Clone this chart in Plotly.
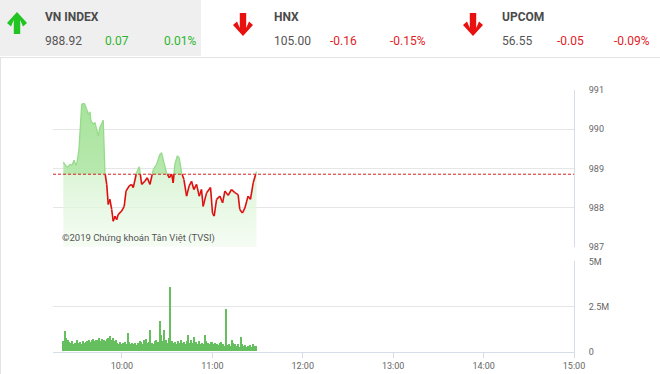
import pandas as pd
import plotly.graph_objects as go

# ---------------- data ----------------
ref_close = 988.85

price_times = [
    "09:21:06", "09:22:54", "09:24:12", "09:25:30", "09:26:54", "09:28:12", "09:29:30", "09:30:12",
    "09:31:30", "09:33:18", "09:35:00", "09:36:36", "09:37:42", "09:38:48", "09:39:24", "09:41:00",
    "09:42:06", "09:43:12", "09:44:18", "09:45:24", "09:46:30", "09:47:36", "09:48:42", "09:49:54",
    "09:50:54", "09:52:00", "09:53:12", "09:54:12", "09:55:24", "09:56:30", "09:57:30", "09:59:48",
    "10:01:30", "10:02:42", "10:04:48", "10:06:24", "10:07:30", "10:09:42", "10:11:30", "10:13:06",
    "10:15:12", "10:16:48", "10:18:36", "10:20:48", "10:23:00", "10:25:12", "10:26:18", "10:27:48",
    "10:29:36", "10:31:24", "10:33:00", "10:34:00", "10:35:06", "10:36:42", "10:38:00", "10:39:36",
    "10:41:06", "10:42:54", "10:44:36", "10:46:12", "10:47:42", "10:49:30", "10:51:18", "10:52:48",
    "10:53:54", "10:56:12", "10:58:48", "11:00:06", "11:01:12", "11:02:48", "11:05:00", "11:06:48",
    "11:08:18", "11:10:30", "11:12:42", "11:14:54", "11:17:06", "11:18:12", "11:20:00", "11:21:36",
    "11:23:42", "11:25:18", "11:27:06", "11:29:18",
]
price_values = [
    989.16, 989.06, 989.03, 989.10, 989.08, 989.21, 989.08, 989.15,
    989.49, 990.64, 990.66, 990.51, 990.38, 990.44, 990.21, 990.13,
    990.17, 990.00, 989.83, 990.05, 990.13, 990.23, 988.90, 988.59,
    988.08, 988.21, 987.95, 987.65, 987.78, 987.69, 987.82, 987.91,
    988.03, 988.42, 988.55, 988.59, 988.51, 988.89, 989.04, 988.59,
    988.67, 988.76, 988.59, 988.97, 989.10, 989.36, 989.40, 989.15,
    988.89, 988.76, 988.85, 988.63, 989.10, 989.32, 989.27, 988.89,
    988.72, 988.29, 988.55, 988.67, 988.46, 988.59, 988.29, 988.46,
    988.03, 988.38, 988.51, 987.86, 987.78, 988.21, 988.29, 988.12,
    988.42, 988.31, 988.46, 988.38, 988.33, 987.95, 987.86, 987.99,
    988.29, 988.21, 988.63, 988.92,
]

vol_start = "09:21"
vol_values_m = [
    0.55, 1.15, 0.72, 0.62, 0.50, 0.45, 0.55, 0.42, 0.48, 0.62,
    0.45, 0.52, 0.40, 0.55, 0.48, 0.52, 0.58, 0.62, 0.50, 0.60,
    0.68, 0.55, 0.62, 0.65, 0.72, 0.58, 0.70, 0.62, 0.55, 0.70,
    0.75, 0.85, 0.65, 0.72, 0.55, 0.60, 0.48, 0.42, 0.50, 0.38,
    0.45, 0.52, 0.40, 1.00, 0.50, 0.42, 0.48, 0.38, 0.45, 0.35,
    0.48, 0.55, 0.50, 0.42, 0.60, 0.68, 0.45, 0.52, 1.20, 0.48,
    0.42, 0.55, 0.62, 0.50, 1.67, 0.90, 0.55, 1.17, 0.60, 0.48,
    0.75, 3.58, 0.55, 0.48, 0.52, 0.42, 0.55, 0.48, 0.60, 0.45,
    0.52, 0.40, 0.55, 0.93, 0.48, 0.62, 0.45, 0.78, 0.50, 0.42,
    0.55, 0.38, 0.48, 0.40, 0.90, 0.55, 0.45, 0.38, 0.50, 0.52,
    0.42, 0.48, 0.40, 0.35, 0.45, 0.50, 0.38, 0.32, 2.32, 0.35,
    0.42, 0.30, 0.60, 0.45, 0.38, 0.30, 0.42, 0.25, 0.80, 0.40,
    0.30, 0.35, 0.22, 0.28, 0.35, 0.25, 0.38, 0.30, 0.28,
]

x_ticks = ["10:00", "11:00", "12:00", "13:00", "14:00", "15:00"]
price_ticks = [987, 988, 989, 990, 991]
vol_tickvals = [0, 2.5e6, 5e6]
vol_ticktext = ["0", "2.5M", "5M"]

header = [
    # name, value, change, pct, up?
    ("VN INDEX", "988.92", "0.07", "0.01%", True),
    ("HNX", "105.00", "-0.16", "-0.15%", False),
    ("UPCOM", "56.55", "-0.05", "-0.09%", False),
]
copyright_text = "©2019 Chứng khoán Tân Việt (TVSI)"

DAY = "2019-01-01 "
W, H = 660, 374

# ---------------- derived series ----------------
ts = pd.to_datetime([DAY + t for t in price_times])
tnum = [t.value for t in ts]

green_x, green_y, red_x, red_y = [], [], [], []
clip_x, clip_y = [ts[0]], [max(price_values[0], ref_close)]
for i in range(len(price_values) - 1):
    x0, x1 = tnum[i], tnum[i + 1]
    y0, y1 = price_values[i], price_values[i + 1]
    a0, a1 = y0 >= ref_close, y1 >= ref_close
    p0, p1 = pd.Timestamp(x0), pd.Timestamp(x1)
    if a0 == a1:
        (green_x if a0 else red_x).extend([p0, p1, None])
        (green_y if a0 else red_y).extend([y0, y1, None])
    else:
        xc = pd.Timestamp(int(x0 + (x1 - x0) * (ref_close - y0) / (y1 - y0)))
        (green_x if a0 else red_x).extend([p0, xc, None])
        (green_y if a0 else red_y).extend([y0, ref_close, None])
        (green_x if a1 else red_x).extend([xc, p1, None])
        (green_y if a1 else red_y).extend([ref_close, y1, None])
        clip_x.append(xc)
        clip_y.append(ref_close)
    clip_x.append(p1)
    clip_y.append(max(y1, ref_close))

vol_ts = pd.date_range(DAY + vol_start, periods=len(vol_values_m), freq="1min")
vol_values = [v * 1e6 for v in vol_values_m]

fig = go.Figure()

# gradient area under the price line
fig.add_trace(go.Scatter(
    x=ts, y=price_values, mode="lines", line=dict(width=0),
    fill="tozeroy",
    fillgradient=dict(type="vertical",
                      colorscale=[[0, "rgba(240,251,238,0.7)"], [1, "rgba(185,234,176,0.95)"]],
                      start=987.0, stop=990.7),
    hoverinfo="skip", showlegend=False, xaxis="x", yaxis="y"))
# baseline at the reference
fig.add_trace(go.Scatter(
    x=[ts[0], ts[-1]], y=[ref_close, ref_close], mode="lines", line=dict(width=0),
    hoverinfo="skip", showlegend=False, xaxis="x", yaxis="y"))
# green between line and reference (above only)
fig.add_trace(go.Scatter(
    x=clip_x, y=clip_y, mode="lines", line=dict(width=0),
    fill="tonexty", fillcolor="rgba(140,218,125,0.45)",
    hoverinfo="skip", showlegend=False, xaxis="x", yaxis="y"))
# line parts
fig.add_trace(go.Scatter(
    x=red_x, y=red_y, mode="lines", line=dict(color="#dd1010", width=1.6),
    connectgaps=False, hoverinfo="skip", showlegend=False, xaxis="x", yaxis="y"))
fig.add_trace(go.Scatter(
    x=green_x, y=green_y, mode="lines", line=dict(color="#95db8b", width=1.3),
    connectgaps=False, hoverinfo="skip", showlegend=False, xaxis="x", yaxis="y"))

# volume bars
fig.add_trace(go.Bar(
    x=vol_ts, y=vol_values, width=48000,
    marker=dict(color="#66bf5e", line=dict(width=0)),
    hoverinfo="skip", showlegend=False, xaxis="x2", yaxis="y2"))

GRID = "#e6e6e6"
AXL = "#d7dde6"
xdom = [53 / W, 574 / W]
xrange_ = [DAY + "09:14:15", DAY + "15:00:00"]
tick_font = dict(family="Roboto, Arial, sans-serif", size=9, color="#666666")

fig.update_layout(
    width=W, height=H,
    margin=dict(l=0, r=0, t=0, b=0, autoexpand=False),
    paper_bgcolor="white", plot_bgcolor="white",
    bargap=0,
    xaxis=dict(domain=xdom, anchor="y", range=xrange_, type="date", matches="x2", automargin=False,
               showticklabels=False, showgrid=False, zeroline=False, ticks=""),
    xaxis2=dict(domain=xdom, anchor="y2", range=xrange_, type="date", automargin=False,
                tickvals=[DAY + t for t in x_ticks], ticktext=x_ticks,
                showgrid=False, zeroline=False, showline=True, linecolor=AXL, linewidth=1,
                ticks="outside", ticklen=5, tickcolor=AXL, tickfont=tick_font),
    yaxis=dict(domain=[127.3 / H, 284 / H], anchor="x", side="right", range=[987, 991],
               automargin=False,
               tickvals=price_ticks, showgrid=True, gridcolor=GRID, zeroline=False,
               showline=True, linecolor=AXL, ticks="", ticklabelstandoff=12, tickfont=tick_font),
    yaxis2=dict(domain=[22.3 / H, 112.6 / H], anchor="x2", side="right", range=[0, 5e6],
                automargin=False,
                tickvals=vol_tickvals, ticktext=vol_ticktext, showgrid=True, gridcolor=GRID,
                zeroline=False, showline=True, linecolor=AXL, ticks="", ticklabelstandoff=12,
                tickfont=tick_font),
)

# reference dashed line
fig.add_shape(type="line", xref="x domain", x0=0, x1=1, yref="y", y0=ref_close, y1=ref_close,
              line=dict(color="#d42020", width=1, dash="3px,2px"), layer="above")


def px(x):
    return x / W


def py(y):
    return 1 - y / H


# header background and container border
fig.add_shape(type="rect", xref="paper", yref="paper", x0=0, x1=px(201), y0=py(0), y1=py(56),
              fillcolor="#efefef", line=dict(width=0), layer="below")
fig.add_shape(type="line", xref="paper", yref="paper", x0=0, x1=1, y0=py(57.5), y1=py(57.5),
              line=dict(color="#e3e3e3", width=1))
fig.add_shape(type="line", xref="paper", yref="paper", x0=px(0.5), x1=px(0.5), y0=py(57.5), y1=0,
              line=dict(color="#e3e3e3", width=1))


def arrow_path(cx, top, bottom, up):
    # chevron-head arrow in pixel coords, converted to paper coords
    hw, sw, hh = 10, 3.2, 11
    if up:
        pts = [(cx, top), (cx + hw, top + hh), (cx + hw - 4, top + hh + 3.5), (cx + sw, top + 8),
               (cx + sw, bottom), (cx - sw, bottom), (cx - sw, top + 8), (cx - hw + 4, top + hh + 3.5),
               (cx - hw, top + hh)]
    else:
        pts = [(cx, bottom), (cx + hw, bottom - hh), (cx + hw - 4, bottom - hh - 3.5), (cx + sw, bottom - 8),
               (cx + sw, top), (cx - sw, top), (cx - sw, bottom - 8), (cx - hw + 4, bottom - hh - 3.5),
               (cx - hw, bottom - hh)]
    return "M " + " L ".join(f"{px(a):.5f},{py(b):.5f}" for a, b in pts) + " Z"


name_x = [43, 272, 500]
chg_x = [103, 328, 555]
pct_x = [162, 388, 612]
arrow_cx = [17, 243, 473]
for i, (name, val, chg, pct, up) in enumerate(header):
    col = "#2cb52c" if up else "#e0211f"
    acol = "#22c422" if up else "#e8110f"
    if up:
        path = arrow_path(arrow_cx[i], 12, 34, True)
    else:
        path = arrow_path(arrow_cx[i], 13, 36, False)
    fig.add_shape(type="path", xref="paper", yref="paper", path=path,
                  fillcolor=acol, line=dict(width=0))
    fig.add_annotation(x=px(name_x[i]), y=py(17), xref="paper", yref="paper", text=f"<b>{name}</b>",
                       showarrow=False, xanchor="left", yanchor="middle",
                       font=dict(family="Roboto, Arial, sans-serif", size=12, color="#4a4a4a"))
    fig.add_annotation(x=px(name_x[i]), y=py(41), xref="paper", yref="paper", text=val,
                       showarrow=False, xanchor="left", yanchor="middle",
                       font=dict(family="Roboto, Arial, sans-serif", size=12, color="#555555"))
    fig.add_annotation(x=px(chg_x[i]), y=py(41), xref="paper", yref="paper", text=chg,
                       showarrow=False, xanchor="left", yanchor="middle",
                       font=dict(family="Roboto, Arial, sans-serif", size=12, color=col))
    fig.add_annotation(x=px(pct_x[i]), y=py(41), xref="paper", yref="paper", text=pct,
                       showarrow=False, xanchor="left", yanchor="middle",
                       font=dict(family="Roboto, Arial, sans-serif", size=12, color=col))

fig.add_annotation(x=px(60), y=py(238), xref="paper", yref="paper", text=copyright_text,
                   showarrow=False, xanchor="left", yanchor="middle",
                   font=dict(family="Roboto, Arial, sans-serif", size=9.5, color="#555555"))

fig.write_html("out.html")
